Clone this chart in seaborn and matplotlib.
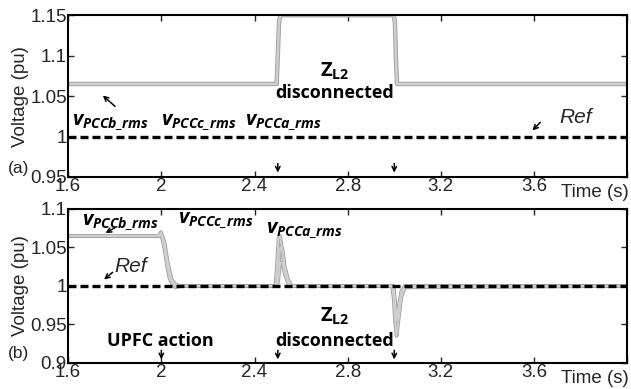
import numpy as np
import pandas as pd
import matplotlib
matplotlib.use("Agg")
import matplotlib.pyplot as plt
import seaborn as sns

# ---- data ----
# panel (a): PCC rms voltages, ZL2 disconnected between 2.5 s and 3.0 s
t_a = [1.6, 2.495, 2.50, 2.505, 2.51, 2.999, 3.003, 3.008, 3.012, 4.0]
v_a = [1.065, 1.065, 1.10, 1.14, 1.15, 1.15, 1.14, 1.09, 1.065, 1.065]

# panel (b): with UPFC action at 2.0 s (three phases)
t_b = [1.6, 1.99, 1.998, 2.005, 2.015, 2.025, 2.035, 2.045, 2.06, 2.08,
       2.49, 2.497, 2.503, 2.51, 2.52, 2.53, 2.545, 2.56,
       2.99, 2.997, 3.003, 3.01, 3.02, 3.03, 3.045, 4.0]
vb_a = [1.065, 1.065, 1.07, 1.06, 1.045, 1.025, 1.01, 1.003, 1.0, 1.0,
        1.0, 1.03, 1.062, 1.065, 1.045, 1.02, 1.005, 1.0,
        1.0, 0.985, 0.955, 0.935, 0.96, 0.985, 0.998, 1.0]
vb_b = [1.065, 1.065, 1.068, 1.065, 1.055, 1.035, 1.02, 1.008, 1.002, 1.0,
        1.0, 1.0, 1.02, 1.05, 1.048, 1.025, 1.008, 1.0,
        1.0, 1.0, 0.98, 0.955, 0.965, 0.99, 0.999, 1.0]
vb_c = [1.065, 1.065, 1.066, 1.062, 1.05, 1.03, 1.015, 1.005, 0.998, 1.0,
        1.0, 1.0, 1.01, 1.03, 1.03, 1.015, 1.003, 1.0,
        1.0, 0.995, 0.975, 0.96, 0.975, 0.993, 1.0, 1.0]

t_ref = [1.6, 4.0]
v_ref = [1.0, 1.0]

xticks = [1.6, 2.0, 2.4, 2.8, 3.2, 3.6, 4.0]
xticklabels = ["1.6", "2", "2.4", "2.8", "3.2", "3.6", ""]
yticks_a = [0.95, 1.0, 1.05, 1.1, 1.15]
yticklabels_a = ["0.95", "1", "1.05", "1.1", "1.15"]
yticks_b = [0.9, 0.95, 1.0, 1.05, 1.1]
yticklabels_b = ["0.9", "0.95", "1", "1.05", "1.1"]

sns.set_style("ticks")
plt.rcParams["font.family"] = ["Liberation Sans", "DejaVu Sans"]
plt.rcParams["mathtext.fontset"] = "custom"
plt.rcParams["mathtext.bf"] = "Open Sans:bold"
plt.rcParams["mathtext.bfit"] = "Open Sans:italic:bold"
plt.rcParams["mathtext.rm"] = "Open Sans"
plt.rcParams["xtick.direction"] = "in"
plt.rcParams["ytick.direction"] = "in"

fig = plt.figure(figsize=(6.31, 3.89), dpi=100)
ax1 = fig.add_axes([0.108, 0.545, 0.886, 0.416])
ax2 = fig.add_axes([0.108, 0.067, 0.886, 0.396])

grey_edge = "#a0a0a0"
grey_fill = "#cfcfcf"
dash = (0, (2.4, 1.2))
arrow = dict(arrowstyle="->", color="black", lw=1.1, mutation_scale=8)


def style_axes(ax, yticks, ylabels, ylim):
    ax.set_xlim(1.6, 4.0)
    ax.set_ylim(*ylim)
    ax.set_xticks(xticks)
    ax.set_xticklabels(xticklabels)
    ax.set_yticks(yticks)
    ax.set_yticklabels(ylabels)
    ax.tick_params(axis="both", labelsize=13.5, length=4, width=1,
                   top=True, right=True, pad=1)
    for s in ax.spines.values():
        s.set_linewidth(1.5)
        s.set_color("black")
    ax.set_xlabel("")
    ax.set_ylabel("Voltage (pu)", fontsize=13.5, labelpad=1)
    ax.text(1.003, -0.045, "Time (s)", transform=ax.transAxes, ha="right",
            va="top", fontsize=13.5)


# ---- panel (a) ----
sns.lineplot(x=t_a, y=v_a, ax=ax1, color=grey_edge, lw=3.2, sort=False)
sns.lineplot(x=t_a, y=v_a, ax=ax1, color=grey_fill, lw=1.8, sort=False)
sns.lineplot(x=t_ref, y=v_ref, ax=ax1, color="black", lw=2.4, linestyle=dash)
style_axes(ax1, yticks_a, yticklabels_a, (0.95, 1.15))

vtxt = dict(fontsize=14.5, color="black")
txt = dict(fontsize=13, color="black")
ax1.text(1.618, 1.018, r"$\mathbfit{v}_{\mathbfit{PCCb\_rms}}$", ha="left", va="center", **vtxt)
ax1.text(2.0, 1.018, r"$\mathbfit{v}_{\mathbfit{PCCc\_rms}}$", ha="left", va="center", **vtxt)
ax1.text(2.36, 1.018, r"$\mathbfit{v}_{\mathbfit{PCCa\_rms}}$", ha="left", va="center", **vtxt)
ax1.annotate("", xy=(1.74, 1.053), xytext=(1.81, 1.035), arrowprops=arrow)
ax1.text(2.745, 1.08, r"$\mathbf{Z}_{\mathbf{L2}}$", ha="center", va="center", **vtxt)
ax1.text(2.745, 1.054, "disconnected", ha="center", va="center",
         fontweight="bold", family="Open Sans", **txt)
ax1.text(3.71, 1.024, "Ref", ha="left", va="center", style="italic", fontsize=15)
ax1.annotate("", xy=(3.585, 1.005), xytext=(3.635, 1.02), arrowprops=arrow)
for xa in [2.5, 3.0]:
    ax1.annotate("", xy=(xa, 0.952), xytext=(xa, 0.97), arrowprops=arrow)

# ---- panel (b) ----
for vb in [vb_a, vb_b, vb_c]:
    sns.lineplot(x=t_b, y=vb, ax=ax2, color=grey_edge, lw=2.6, sort=False)
for vb in [vb_a, vb_b, vb_c]:
    sns.lineplot(x=t_b, y=vb, ax=ax2, color=grey_fill, lw=1.4, sort=False)
sns.lineplot(x=t_ref, y=v_ref, ax=ax2, color="black", lw=2.4, linestyle=dash)
style_axes(ax2, yticks_b, yticklabels_b, (0.9, 1.1))

ax2.text(1.66, 1.083, r"$\mathbfit{v}_{\mathbfit{PCCb\_rms}}$", ha="left", va="center", **vtxt)
ax2.annotate("", xy=(1.75, 1.067), xytext=(1.81, 1.077), arrowprops=arrow)
ax2.text(2.07, 1.085, r"$\mathbfit{v}_{\mathbfit{PCCc\_rms}}$", ha="left", va="center", **vtxt)
ax2.text(2.45, 1.072, r"$\mathbfit{v}_{\mathbfit{PCCa\_rms}}$", ha="left", va="center", **vtxt)
ax2.text(1.80, 1.025, "Ref", ha="left", va="center", style="italic", fontsize=15)
ax2.annotate("", xy=(1.745, 1.006), xytext=(1.80, 1.02), arrowprops=arrow)
ax2.text(1.995, 0.928, "UPFC action", ha="center", va="center",
         fontweight="bold", family="Open Sans", **txt)
ax2.text(2.745, 0.96, r"$\mathbf{Z}_{\mathbf{L2}}$", ha="center", va="center", **vtxt)
ax2.text(2.745, 0.928, "disconnected", ha="center", va="center",
         fontweight="bold", family="Open Sans", **txt)
for xa in [2.0, 2.5, 3.0]:
    ax2.annotate("", xy=(xa, 0.901), xytext=(xa, 0.92), arrowprops=arrow)

fig.text(0.012, 0.568, "(a)", fontsize=12.5, ha="left", va="center")
fig.text(0.012, 0.092, "(b)", fontsize=12.5, ha="left", va="center")

fig.savefig("out.png", dpi=100)
